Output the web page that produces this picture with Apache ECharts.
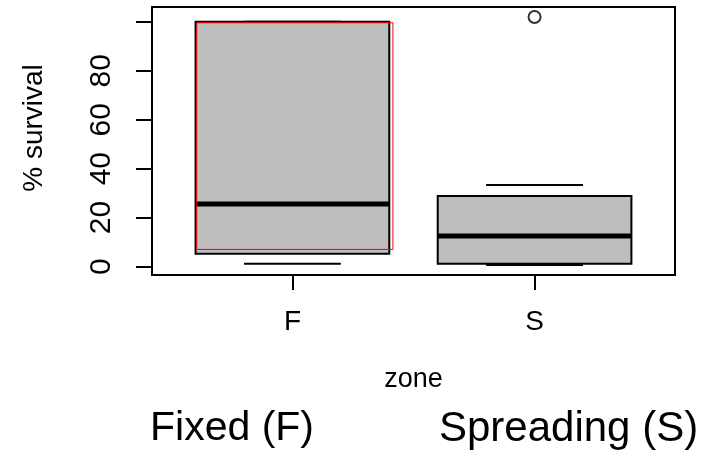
<!DOCTYPE html>
<html>
<head>
<meta charset="utf-8">
<script src="https://cdn.jsdelivr.net/npm/echarts@6/dist/echarts.min.js"></script>
<style>
  html, body { margin: 0; padding: 0; background: #fff; }
  #chart { width: 709px; height: 461px; }
</style>
</head>
<body>
<div id="chart"></div>
<script>
// boxplot stats, one entry per zone
const categories = ["F", "S"];
const lowWhisker = [1.1, 0.6];
const lowerHinge = [5.2, 1.1];
const medians = [25.6, 12.5];
const upperHinge = [100, 28.8];
const highWhisker = [100, 33.3];
const outliers = [[2, 102]]; // [zone position, value]
const yTicks = [0, 20, 40, 60, 80, 100];
const yLabels = [0, 20, 40, 60, 80];
// red rectangle drawn over the F box (low, high)
const highlightRange = [7, 99.6];
const zoneNames = ["Fixed (F)", "Spreading (S)"];

const FONT = "Liberation Sans, Arial, sans-serif";

// R style 4% padding of the axis ranges
const allY = lowWhisker.concat(highWhisker, outliers.map((o) => o[1]));
let ymin = Math.min(...allY), ymax = Math.max(...allY);
let pad = (ymax - ymin) * 0.04;
ymin -= pad;
ymax += pad;
const xmin = 0.5 - 0.04 * categories.length;
const xmax = categories.length + 0.5 + 0.04 * categories.length;

const boxData = categories.map((c, i) => [
  i + 1, lowWhisker[i], lowerHinge[i], medians[i], upperHinge[i], highWhisker[i]
]);

function renderBox(params, api) {
  const x = api.value(0);
  const lw = api.value(1), q1 = api.value(2), med = api.value(3),
    q3 = api.value(4), hw = api.value(5);
  const tl = api.coord([x - 0.4, q3]);
  const br = api.coord([x + 0.4, q1]);
  const hline = (v, half, w) => {
    const a = api.coord([x - half, v]);
    const b = api.coord([x + half, v]);
    return {
      type: "line",
      shape: { x1: a[0], y1: a[1], x2: b[0], y2: b[1] },
      style: { stroke: "#000", lineWidth: w }
    };
  };
  return {
    type: "group",
    children: [
      hline(lw, 0.2, 2),
      hline(hw, 0.2, 2),
      {
        type: "rect",
        shape: { x: tl[0], y: tl[1], width: br[0] - tl[0], height: br[1] - tl[1] },
        style: { fill: "#bebebe", stroke: "#000", lineWidth: 2 }
      },
      hline(med, 0.4, 5)
    ]
  };
}

function renderHighlight(params, api) {
  const x = api.value(0);
  const tl = api.coord([x - 0.395, api.value(2)]);
  const br = api.coord([x + 0.415, api.value(1)]);
  return {
    type: "rect",
    shape: { x: tl[0], y: tl[1], width: br[0] - tl[0], height: br[1] - tl[1] },
    style: { fill: "none", stroke: "#ff0000", lineWidth: 1 }
  };
}

const chart = echarts.init(document.getElementById("chart"));
chart.setOption({
  animation: false,
  backgroundColor: "#fff",
  grid: {
    left: 152, top: 7, right: 34, bottom: 186,
    show: true, borderColor: "#000", borderWidth: 2
  },
  xAxis: {
    type: "value",
    min: xmin,
    max: xmax,
    name: "zone",
    nameLocation: "middle",
    nameGap: 91,
    nameTextStyle: { fontFamily: FONT, fontSize: 27, color: "#000" },
    axisLine: { show: false, onZero: false },
    splitLine: { show: false },
    axisTick: {
      show: true, length: 15, customValues: [1, 2],
      lineStyle: { color: "#000", width: 2 }
    },
    axisLabel: {
      customValues: [1, 2],
      formatter: (v) => categories[Math.round(v) - 1],
      margin: 33,
      fontFamily: FONT, fontSize: 28, color: "#000"
    }
  },
  yAxis: {
    type: "value",
    min: ymin,
    max: ymax,
    axisLine: { show: false, onZero: false },
    splitLine: { show: false },
    axisTick: {
      show: true, length: 16, customValues: yTicks,
      lineStyle: { color: "#000", width: 2 }
    },
    axisLabel: {
      customValues: yLabels,
      rotate: 90,
      margin: 35,
      fontFamily: FONT, fontSize: 30, color: "#000"
    }
  },
  graphic: [
    {
      type: "text", x: 34, y: 128, rotation: Math.PI / 2,
      style: {
        text: "% survival", font: "28px " + FONT, fill: "#000",
        textAlign: "center", textVerticalAlign: "middle"
      }
    },
    {
      type: "text", x: 150, y: 429,
      style: {
        text: zoneNames[0], font: "41px " + FONT, fill: "#000",
        textAlign: "left", textVerticalAlign: "middle"
      }
    },
    {
      type: "text", x: 439, y: 429,
      style: {
        text: zoneNames[1], font: "42px " + FONT, fill: "#000",
        textAlign: "left", textVerticalAlign: "middle"
      }
    }
  ],
  series: [
    {
      type: "custom",
      renderItem: renderBox,
      clip: false,
      encode: { x: 0, y: [1, 2, 3, 4, 5] },
      data: boxData
    },
    {
      type: "scatter",
      symbol: "circle",
      symbolSize: 12,
      itemStyle: { color: "#fff", borderColor: "#000", borderWidth: 2 },
      data: outliers
    },
    {
      type: "custom",
      renderItem: renderHighlight,
      clip: false,
      encode: { x: 0, y: [1, 2] },
      data: [[1, highlightRange[0], highlightRange[1]]]
    }
  ]
});
</script>
</body>
</html>
